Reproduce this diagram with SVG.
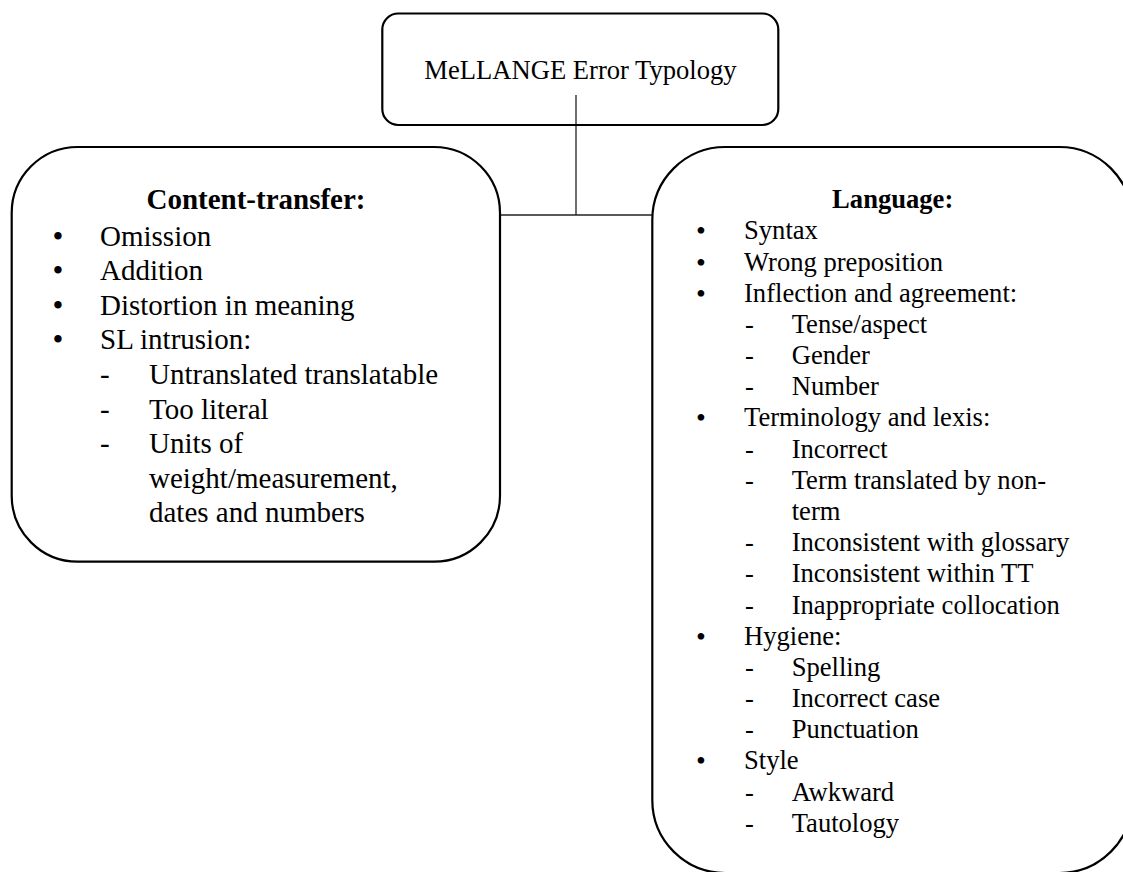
<svg xmlns="http://www.w3.org/2000/svg" width="1123" height="872" viewBox="0 0 1123 872">
<style>
.box{fill:#fff;stroke:#000;stroke-width:2.2}
.conn{fill:none;stroke:#222;stroke-width:1.3}
text{font-family:"Liberation Serif","Times New Roman",serif;fill:#000}
.t{font-size:26.6px}
.l{font-size:29px}
.hb{font-weight:bold;text-anchor:middle}
.bl{font-size:31px;text-anchor:middle}
.br{font-size:28px;text-anchor:middle}
</style>
<rect width="1123" height="872" fill="#fff"/>
<g id="connectors">
<line class="conn" x1="576" y1="95" x2="576" y2="215"/>
<line class="conn" x1="500" y1="215" x2="652" y2="215"/>
</g>
<g id="root">
<rect class="box" x="382.3" y="13.5" width="396" height="111.5" rx="16" ry="16" fill-opacity="0"/>
<text class="t" x="580.5" y="79" text-anchor="middle">MeLLANGE Error Typology</text>
</g>
<g id="content-transfer">
<rect class="box" x="11.7" y="147" width="488.3" height="414.7" rx="66" ry="66"/>
<text class="l hb" x="256" y="209">Content-transfer:</text>
<text class="bl" x="58" y="246.5">•</text><text class="l" x="100" y="245.5">Omission</text>
<text class="bl" x="58" y="281.1">•</text><text class="l" x="100" y="280.1">Addition</text>
<text class="bl" x="58" y="315.7">•</text><text class="l" x="100" y="314.7">Distortion in meaning</text>
<text class="bl" x="58" y="350.3">•</text><text class="l" x="100" y="349.3">SL intrusion:</text>
<text class="l" x="100" y="383.9">-</text><text class="l" x="149" y="383.9">Untranslated translatable</text>
<text class="l" x="100" y="418.5">-</text><text class="l" x="149" y="418.5">Too literal</text>
<text class="l" x="100" y="453.1">-</text><text class="l" x="149" y="453.1">Units of</text>
<text class="l" x="149" y="487.7">weight/measurement,</text>
<text class="l" x="149" y="522.3">dates and numbers</text>
</g>
<g id="language">
<rect class="box" x="652.3" y="147" width="480" height="726" rx="73" ry="73"/>
<text class="t hb" x="892.7" y="207.7">Language:</text>
<text class="br" x="701" y="240.3">•</text><text class="t" x="744" y="239.3">Syntax</text>
<text class="br" x="701" y="271.5">•</text><text class="t" x="744" y="270.5">Wrong preposition</text>
<text class="br" x="701" y="302.7">•</text><text class="t" x="744" y="301.7">Inflection and agreement:</text>
<text class="t" x="745" y="332.8">-</text><text class="t" x="791.7" y="332.8">Tense/aspect</text>
<text class="t" x="745" y="364">-</text><text class="t" x="791.7" y="364">Gender</text>
<text class="t" x="745" y="395.2">-</text><text class="t" x="791.7" y="395.2">Number</text>
<text class="br" x="701" y="427.4">•</text><text class="t" x="744" y="426.4">Terminology and lexis:</text>
<text class="t" x="745" y="457.6">-</text><text class="t" x="791.7" y="457.6">Incorrect</text>
<text class="t" x="745" y="488.7">-</text><text class="t" x="791.7" y="488.7">Term translated by non-</text>
<text class="t" x="791.7" y="519.9">term</text>
<text class="t" x="745" y="551.1">-</text><text class="t" x="791.7" y="551.1">Inconsistent with glossary</text>
<text class="t" x="745" y="582.3">-</text><text class="t" x="791.7" y="582.3">Inconsistent within TT</text>
<text class="t" x="745" y="613.5">-</text><text class="t" x="791.7" y="613.5">Inappropriate collocation</text>
<text class="br" x="701" y="645.6">•</text><text class="t" x="744" y="644.6">Hygiene:</text>
<text class="t" x="745" y="675.8">-</text><text class="t" x="791.7" y="675.8">Spelling</text>
<text class="t" x="745" y="707">-</text><text class="t" x="791.7" y="707">Incorrect case</text>
<text class="t" x="745" y="738.2">-</text><text class="t" x="791.7" y="738.2">Punctuation</text>
<text class="br" x="701" y="770.4">•</text><text class="t" x="744" y="769.4">Style</text>
<text class="t" x="745" y="800.5">-</text><text class="t" x="791.7" y="800.5">Awkward</text>
<text class="t" x="745" y="831.7">-</text><text class="t" x="791.7" y="831.7">Tautology</text>
</g>
</svg>
